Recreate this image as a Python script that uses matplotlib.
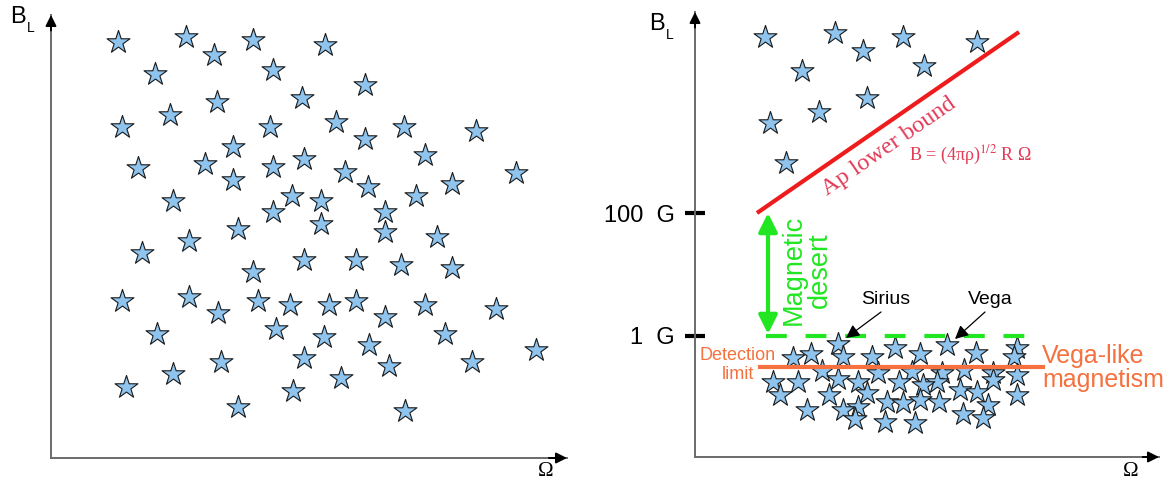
import matplotlib

matplotlib.use("Agg")
import matplotlib.pyplot as plt

plt.rcParams["font.family"] = ["Liberation Sans", "DejaVu Sans"]
plt.rcParams["mathtext.fontset"] = "stix"

# left panel: random spread of stars (arbitrary units)
left_omega = [190, 370, 445, 550, 742, 287, 603, 850, 680, 455, 327, 200, 595, 773,
              955, 1147, 850, 497, 1010, 243, 423, 603, 687, 795, 1253, 497, 857, 1083,
              987, 337, 655, 733, 603, 903, 733, 903, 510, 1043, 380, 253, 687, 827,
              945, 1083, 550, 200, 380, 457, 563, 650, 753, 827, 1010, 1200, 903, 293,
              613, 740, 1063, 860, 1307, 687, 465, 1137, 913, 337, 785, 210, 657, 510, 957]
left_b = [1250, 1265, 1210, 1255, 1240, 1153, 1167, 1120, 1083, 1070, 1033, 997, 997, 1010,
          997, 985, 960, 937, 913, 875, 887, 877, 900, 863, 860, 837, 817, 827,
          790, 777, 790, 777, 743, 743, 707, 683, 693, 670, 657, 620, 600, 600,
          585, 575, 563, 477, 490, 443, 477, 467, 467, 477, 467, 453, 430, 380,
          393, 370, 380, 347, 333, 307, 297, 297, 283, 260, 247, 223, 210, 163, 150]

# right panel: Ap stars above the bound, Vega-like stars below 1 G
ap_omega = [70, 140, 168, 208, 282, 107, 229, 172, 124, 75, 91]
ap_b = [420, 424, 406, 420, 415, 386, 391, 359, 345, 334, 294]
weak_omega = [143, 200, 252, 322, 98, 116, 148, 177, 225, 281, 319, 127, 217, 183, 247,
              269, 298, 322, 143, 78, 103, 163, 204, 242, 228, 298, 172, 85, 134, 265,
              282, 322, 192, 208, 225, 244, 163, 148, 112, 293, 268, 160, 190, 220, 288]
weak_b = [113, 109, 112, 109, 99, 103, 100, 100, 103, 104, 100, 86, 85, 84, 84,
          87, 84, 82, 78, 75, 75, 75, 75, 75, 72, 77, 64, 62, 62, 67,
          65, 62, 55, 54, 57, 55, 50, 47, 47, 52, 43, 38, 35, 34, 39]

level_100g = 244
level_1g = 121
bound_omega = [62, 324]
bound_b = [244, 425]
detection_b = 90
detection_omega = [65, 348]
desert_omega = 73
sirius = (143, 113)
vega = (252, 112)

STAR_FACE = "#8EC4EE"
STAR_EDGE = "#1a1a1a"
AXIS_GREY = "#6a6a6a"
RED = "#EE1C1C"
PINK = "#E23B57"
GREEN = "#22E622"
ORANGE = "#F5713F"

W, H = 1172, 486
fig = plt.figure(figsize=(W / 100, H / 100), dpi=100)
fig.patch.set_facecolor("white")


def _frame(rect):
    ax = fig.add_axes(rect)
    ax.set_facecolor("none")
    for side in ("top", "right"):
        ax.spines[side].set_visible(False)
    for side in ("left", "bottom"):
        ax.spines[side].set_color(AXIS_GREY)
        ax.spines[side].set_linewidth(1.4)
    ax.set_xticks([])
    ax.set_yticks([])
    head = dict(arrowstyle="-|>", color="black", lw=1.4, mutation_scale=16,
                shrinkA=0, shrinkB=0)
    ax.annotate("", xy=(0, 1), xytext=(0, 0.965), xycoords="axes fraction",
                arrowprops=head, annotation_clip=False)
    ax.annotate("", xy=(1, 0), xytext=(0.965, 0), xycoords="axes fraction",
                arrowprops=head, annotation_clip=False)
    return ax


def _stars(ax, xs, ys):
    ax.scatter(xs, ys, marker="*", s=300, facecolor=STAR_FACE, edgecolor=STAR_EDGE,
               linewidth=0.8, zorder=3, clip_on=False)


def _axis_names(x_b, y_b, x_o, y_o):
    fig.text(x_b / W, 1 - y_b / H, "B", fontsize=17, ha="left", va="center")
    fig.text((x_b + 17) / W, 1 - (y_b + 11) / H, "L", fontsize=10, ha="left", va="center")
    fig.text(x_o / W, 1 - y_o / H, "Ω", fontsize=15, family="Liberation Serif",
             ha="center", va="center")


# ---- left panel
axl = _frame([51 / W, (H - 458) / H, (567 - 51) / W, (458 - 15) / H])
axl.set_xlim(10, 1390)
axl.set_ylim(10, 1330)
_stars(axl, left_omega, left_b)
_axis_names(10, 17, 546, 471)

# ---- right panel
axr = _frame([695 / W, (H - 457) / H, (1159 - 695) / W, (457 - 12) / H])
axr.set_xlim(0, 464)
axr.set_ylim(0, 445)
_stars(axr, ap_omega, ap_b)
_stars(axr, weak_omega, weak_b)
_axis_names(649, 24, 1131, 471)

axr.set_yticks([level_1g, level_100g], ["1  G", "100  G"])
axr.tick_params(axis="y", direction="inout", length=15, width=3, color="black",
                labelsize=17, pad=7)

axr.plot(bound_omega, bound_b, color=RED, lw=3, solid_capstyle="butt", zorder=4)
axr.text(194, 310, "Ap lower bound", rotation=34.6, color=PINK, fontsize=17.5,
         family="Liberation Serif", ha="center", va="center", rotation_mode="anchor")
axr.text(275, 302, r"B = (4πρ)$^{1/2}$ R Ω", color=PINK, fontsize=13,
         family="Liberation Serif", ha="center", va="center")

axr.annotate("", xy=(desert_omega, level_100g), xytext=(desert_omega, level_1g + 2),
             arrowprops=dict(arrowstyle="<|-|>", color=GREEN, lw=3, mutation_scale=28,
                             shrinkA=0, shrinkB=0))
axr.plot([desert_omega - 2, 337], [level_1g, level_1g], color=GREEN, lw=3,
         linestyle=(0, (5, 4.5)), zorder=4)
axr.text(112, 187, "Magnetic\ndesert", rotation=90, color=GREEN, fontsize=19.5,
         ha="center", va="center", multialignment="center", linespacing=1.0)

axr.plot(detection_omega, [detection_b, detection_b], color=ORANGE, lw=3, zorder=4)
axr.text(43, 92, "Detection\nlimit", color=ORANGE, fontsize=13, ha="center",
         va="center", multialignment="center", linespacing=1.15)
axr.text(347, 89, "Vega-like\nmagnetism", color=ORANGE, fontsize=18, ha="left",
         va="center", linespacing=1.05)

for name, star, label_x in (("Sirius", sirius, 191), ("Vega", vega, 295)):
    axr.text(label_x, 158, name, fontsize=14, ha="center", va="center")
    axr.annotate("", xy=(star[0] + 8, star[1] + 6), xytext=(label_x - 5, 145),
                 arrowprops=dict(arrowstyle="-|>", color="black", lw=0.9,
                                 mutation_scale=20, shrinkA=0, shrinkB=0), zorder=5)

fig.savefig("out.png", dpi=100, facecolor="white")
